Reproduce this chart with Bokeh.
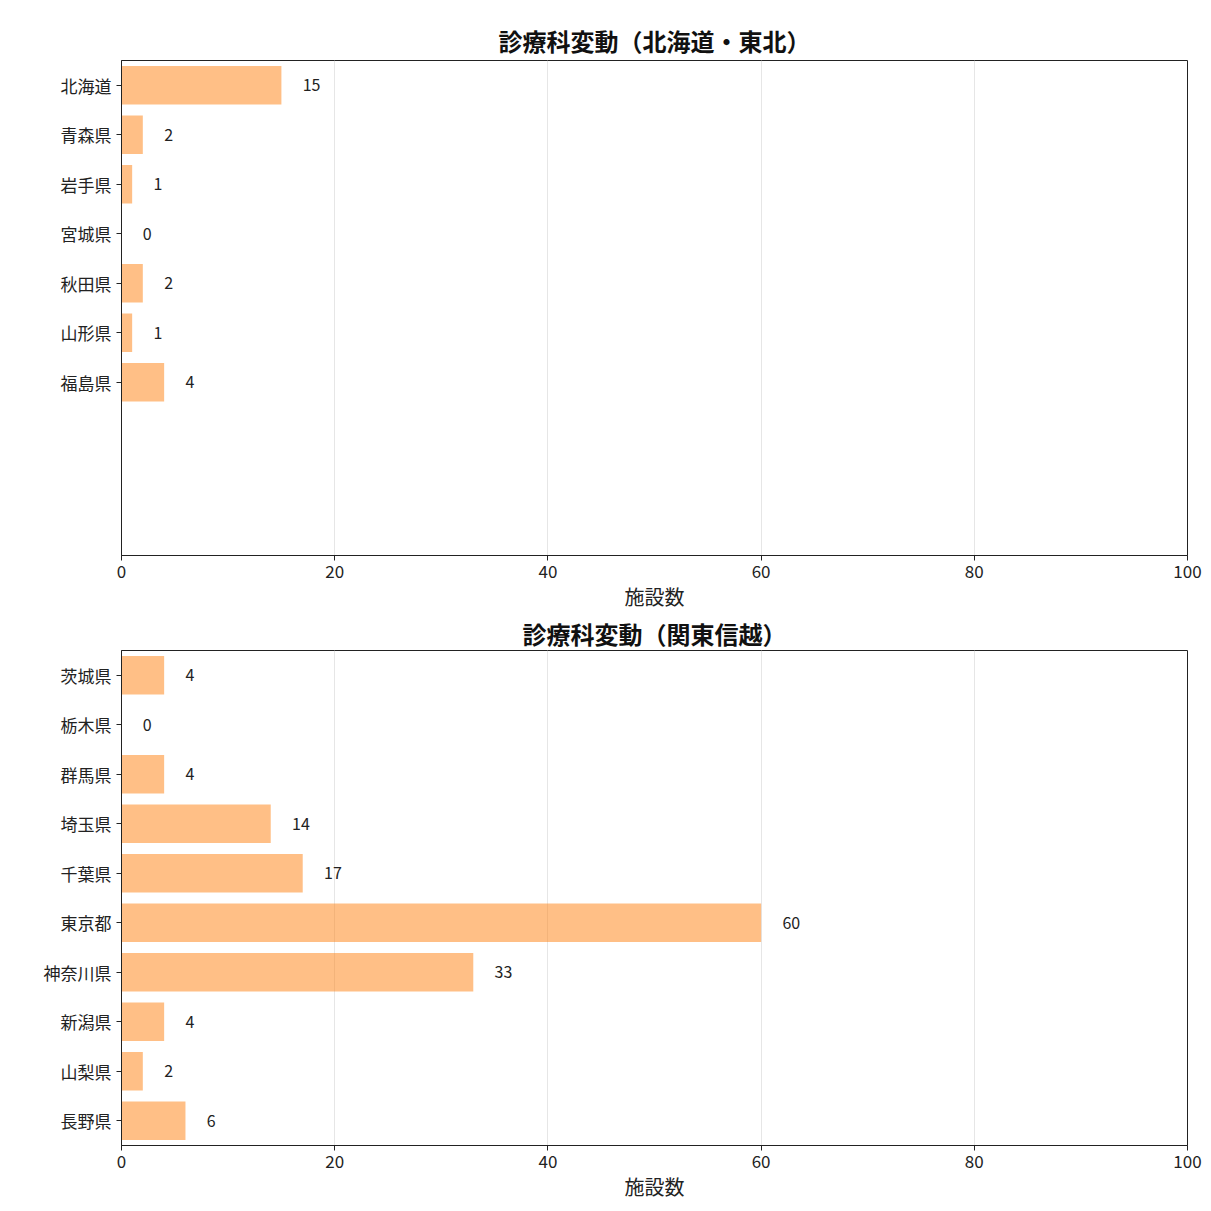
from bokeh.plotting import figure
from bokeh.layouts import column
from bokeh.models import Range1d, FixedTicker, ColumnDataSource
from bokeh.core.properties import value
from bokeh.embed import file_html
from bokeh.resources import INLINE

FONT = "Noto Sans CJK JP"

title1 = "診療科変動（北海道・東北）"
pref1 = ["北海道", "青森県", "岩手県", "宮城県", "秋田県", "山形県", "福島県"]
vals1 = [15, 2, 1, 0, 2, 1, 4]

title2 = "診療科変動（関東信越）"
pref2 = ["茨城県", "栃木県", "群馬県", "埼玉県", "千葉県", "東京都", "神奈川県", "新潟県", "山梨県", "長野県"]
vals2 = [4, 0, 4, 14, 17, 60, 33, 4, 2, 6]

xlabel = "施設数"
xticks = [0, 20, 40, 60, 80, 100]

FW, FH = 1066, 495


def make(title, prefs, vals, border_top, border_bottom, standoff, lh, label_lh):
    p = figure(frame_width=FW, frame_height=FH, output_backend="svg",
               toolbar_location=None, x_range=Range1d(0, 100),
               y_range=Range1d(9.5, -0.5),
               min_border_left=121, min_border_right=20,
               min_border_top=border_top, min_border_bottom=border_bottom)
    idx = list(range(len(prefs)))
    src = ColumnDataSource(dict(y=idx, v=vals, lx=[v + 2 for v in vals],
                                lab=[str(v) for v in vals]))
    p.hbar(y="y", right="v", left=0, height=0.78, source=src,
           fill_color="#ff7f0e", fill_alpha=0.5, line_color=None)
    p.text(x="lx", y="y", text="lab", source=src, text_align="left",
           text_baseline="middle", text_font_size="16px",
           text_font=value(FONT), text_color="#222222")
    p.title.text = title
    p.title.align = "center"
    p.title.text_font = FONT
    p.title.text_font_size = "24px"
    p.title.text_font_style = "bold"
    p.title.text_color = "#111111"
    p.title.standoff = standoff
    p.title.text_line_height = lh
    p.xaxis.ticker = FixedTicker(ticks=xticks)
    p.xaxis.axis_label = xlabel
    p.xaxis.axis_label_text_font = FONT
    p.xaxis.axis_label_text_font_size = "20px"
    p.xaxis.axis_label_text_font_style = "normal"
    p.xaxis.axis_label_text_color = "#222222"
    p.xaxis.axis_label_standoff = 1
    p.xaxis.axis_label_text_line_height = label_lh
    p.xaxis.major_label_standoff = 4
    p.yaxis.ticker = FixedTicker(ticks=idx)
    p.yaxis.major_label_overrides = {i: s for i, s in enumerate(prefs)}
    for ax in (p.xaxis[0], p.yaxis[0]):
        ax.major_label_text_font = FONT
        ax.major_label_text_font_size = "17px"
        ax.major_label_text_color = "#222222"
        ax.axis_line_color = "#222222"
        ax.major_tick_line_color = "#222222"
        ax.major_tick_in = 0
        ax.major_tick_out = 5
        ax.minor_tick_line_color = None
    p.xgrid.grid_line_color = "#e6e6e6"
    p.ygrid.grid_line_color = None
    p.outline_line_color = "#222222"
    p.outline_line_width = 1
    return p


p1 = make(title1, pref1, vals1, 60, 0, 6, 1.2, 0.6)
p2 = make(title2, pref2, vals2, 0, 0, 0, 0.7, 0.9)
layout = column(p1, p2, spacing=0)

open("out.html", "w").write(file_html(layout, INLINE))
